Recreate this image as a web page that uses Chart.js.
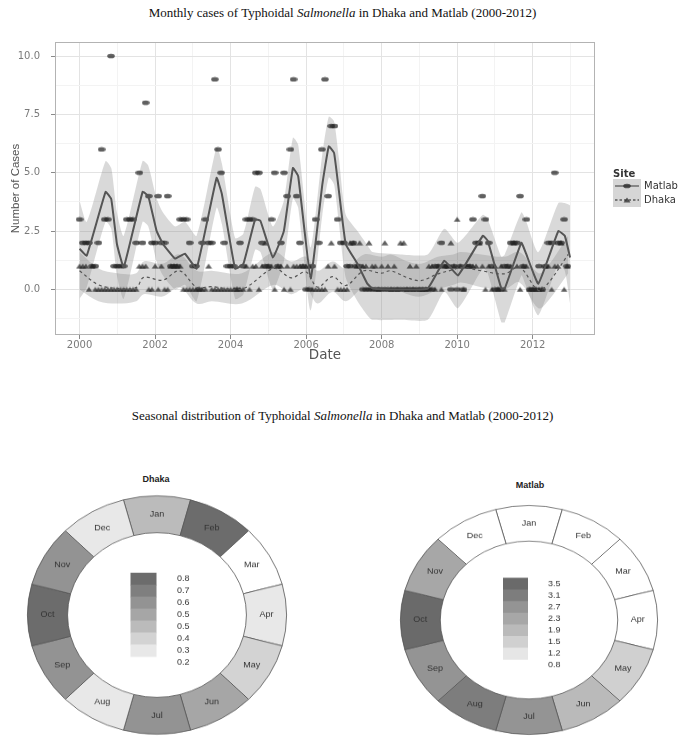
<!DOCTYPE html>
<html>
<head>
<meta charset="utf-8">
<script src="https://cdn.jsdelivr.net/npm/chart.js@4.4.1/dist/chart.umd.min.js"></script>
<style>
  html, body { margin: 0; padding: 0; background: #fff; }
  body { width: 685px; height: 738px; overflow: hidden; position: relative; }
  .title { position: absolute; left: 0; width: 685px; text-align: center;
           font-family: "Liberation Serif", serif; font-size: 13px; color: #111; line-height: 15px; }
  .ringtitle { position: absolute; width: 120px; text-align: center; font-family: "Liberation Sans", sans-serif;
               font-weight: bold; font-size: 9px; color: #222; }
  #topWrap { position: absolute; left: 0; top: 30px; width: 685px; height: 335px; }
  .ring { position: absolute; }
</style>
</head>
<body>
<div class="title" style="top:5px">Monthly cases of Typhoidal <i>Salmonella</i> in Dhaka and Matlab (2000-2012)</div>
<div id="topWrap"><canvas id="casesChart"></canvas></div>
<div class="title" style="top:408px">Seasonal distribution of Typhoidal <i>Salmonella</i> in Dhaka and Matlab (2000-2012)</div>
<div class="ringtitle" style="left:96px;top:474px">Dhaka</div>
<div class="ringtitle" style="left:470px;top:480px">Matlab</div>
<div class="ring" style="left:22px;top:480px;transform:scaleY(0.92)"><canvas id="dhakaRing" width="270" height="270"></canvas></div>
<div class="ring" style="left:395px;top:486px;transform:scaleY(0.89)"><canvas id="matlabRing" width="268" height="268"></canvas></div>
<script>
// ---- monthly cases, Jan 2000 .. Dec 2012 (one value per month)
const startYear = 2000;
const matlabCases = [
  3,2,2,2,1,1,2,6,3,3,10,1,   // 2000
  1,1,1,3,3,3,2,5,2,8,4,2,    // 2001
  2,4,2,2,4,1,1,1,3,3,3,2,    // 2002
  1,1,0,2,3,2,2,9,6,5,2,1,    // 2003
  1,1,0,2,1,3,3,3,5,5,2,1,    // 2004
  1,3,5,1,2,5,4,6,9,4,2,1,    // 2005
  0,0,1,3,2,6,9,4,7,7,3,2,    // 2006
  2,1,1,2,1,1,0,0,0,0,0,0,    // 2007
  0,0,0,0,0,0,0,0,0,0,0,0,    // 2008
  0,0,0,0,0,1,1,2,1,1,0,1,    // 2009
  0,1,0,1,1,3,2,2,4,3,2,1,    // 2010
  0,0,0,1,1,2,2,2,4,1,3,0,    // 2011
  0,0,1,0,1,2,2,5,2,2,3,1     // 2012
];
const dhakaCases = [
  1,1,1,0,1,0,0,0,0,0,0,0,    // 2000
  0,0,0,0,0,0,0,1,1,1,0,0,    // 2001
  1,0,1,0,0,1,1,1,1,0,0,0,    // 2002
  0,0,0,0,0,1,0,0,0,0,0,0,    // 2003
  0,0,0,0,0,1,0,1,1,0,1,2,    // 2004
  1,1,0,1,1,0,1,0,1,1,1,1,    // 2005
  1,1,0,0,0,0,0,1,2,1,0,0,    // 2006
  0,0,2,2,1,2,1,1,2,1,1,0,    // 2007
  1,2,1,0,1,0,2,2,0,1,0,1,    // 2008
  0,0,0,1,1,0,1,0,1,1,2,1,    // 2009
  3,1,0,1,1,1,1,2,1,0,1,0,    // 2010
  1,0,1,0,1,1,2,1,0,1,1,0,    // 2011
  0,0,0,0,1,1,0,1,1,2,0,1     // 2012
];

// ---- smoothed trend + band
const matlabFitX = [2000.00,2000.19,2000.69,2000.84,2000.99,2001.17,2001.67,2001.82,2002.04,2002.21,2002.53,2002.79,
  2003.10,2003.63,2003.77,2004.12,2004.34,2004.65,2004.79,2005.12,2005.41,2005.65,2005.79,2006.12,2006.43,2006.60,
  2006.74,2006.87,2007.05,2007.36,2007.62,2007.76,2008.50,2009.22,2009.66,2010.02,2010.68,2010.81,2011.17,2011.26,
  2011.70,2011.81,2012.15,2012.68,2012.85,2012.99];
const matlabFitY = [1.74,1.45,4.18,3.87,1.95,0.95,4.18,4.00,2.51,1.95,1.32,1.53,
  0.89,4.78,4.08,0.89,1.10,3.00,2.94,1.37,2.50,5.20,4.85,0.47,4.50,6.13,
  5.85,4.20,1.94,1.10,0.25,0.04,0.00,0.04,1.23,0.60,2.30,2.08,0.04,0.04,
  2.00,1.60,0.25,2.50,2.30,1.37];
const matlabUpper = [3.8,2.9,5.5,5.2,3.3,2.3,5.5,5.3,3.9,3.3,2.7,2.9,
  2.3,6.1,5.4,2.2,2.4,4.4,4.3,2.7,3.8,6.5,6.2,1.8,5.8,7.4,
  7.2,5.6,3.2,2.5,1.9,1.6,1.5,1.5,2.6,2.0,3.2,3.0,1.4,1.5,
  3.3,3.0,1.6,3.7,3.7,3.6];
const matlabLower = [-0.4,0.1,2.9,2.6,0.6,-0.4,2.9,2.7,1.2,0.6,0.0,0.2,
  -0.5,3.5,2.8,-0.4,-0.2,1.7,1.6,0.0,1.2,3.9,3.5,-0.9,3.2,4.8,
  4.5,2.8,0.5,-0.5,-1.1,-1.3,-1.3,-1.3,-0.1,-0.8,0.9,0.7,-1.4,-1.4,
  0.6,0.2,-1.1,1.1,0.8,-0.6];

const dhakaFitX = [2000.0,2000.5,2001.0,2001.5,2001.7,2002.2,2002.65,2003.1,2003.5,2004.3,2005.15,2005.6,2006.0,
  2006.3,2006.7,2007.05,2007.53,2008.0,2008.24,2008.69,2009.04,2009.49,2009.9,2010.1,2010.64,2011.25,2011.65,
  2012.15,2012.4,2012.94];
const dhakaFitY = [0.80,0.20,0.05,0.08,0.52,0.40,0.80,0.10,0.12,0.02,0.90,0.50,0.75,
  0.10,0.55,0.17,0.80,0.70,0.80,0.50,0.38,0.67,0.85,0.95,0.80,0.67,0.95,
  -0.04,0.25,1.50];
const dhakaUpper = [1.6,0.9,0.7,0.7,1.2,1.1,1.5,0.8,0.8,0.7,1.6,1.2,1.4,
  0.8,1.2,0.9,1.5,1.4,1.5,1.2,1.1,1.4,1.5,1.6,1.5,1.4,1.6,
  0.7,1.0,2.3];
const dhakaLower = [0.0,-0.5,-0.6,-0.5,-0.2,-0.3,0.1,-0.6,-0.5,-0.6,0.2,-0.2,0.05,
  -0.6,-0.1,-0.5,0.1,0.0,0.1,-0.2,-0.3,0.0,0.2,0.3,0.1,0.0,0.3,
  -0.8,-0.5,0.7];

// ---- seasonal means
const months = ['Jan','Feb','Mar','Apr','May','Jun','Jul','Aug','Sep','Oct','Nov','Dec'];
const dhakaMonthly  = [0.44,0.79,0.18,0.25,0.34,0.50,0.58,0.23,0.60,0.76,0.59,0.27];
const matlabMonthly = [0.75,0.70,0.60,0.65,1.35,1.70,2.45,2.90,2.55,3.40,2.10,0.78];
const dhakaBreaks  = [0.2,0.3,0.4,0.47,0.54,0.63,0.72,0.8];
const matlabBreaks = [0.8,1.2,1.5,1.9,2.3,2.7,3.1,3.5];
const dhakaKeyLabels  = ['0.8','0.7','0.6','0.5','0.5','0.4','0.3','0.2'];
const matlabKeyLabels = ['3.5','3.1','2.7','2.3','1.9','1.5','1.2','0.8'];

const dhakaGreys  = ['#e8e8e8','#d3d3d3','#bbbbbb','#a6a6a6','#939393','#7f7f7f','#6c6c6c'];
const matlabGreys = ['#e6e6e6','#d0d0d0','#bababa','#a7a7a7','#949494','#7d7d7d','#6a6a6a'];

// point shapes
function makeShape(kind) {
  const c = document.createElement('canvas');
  c.width = 8; c.height = 6;
  const g = c.getContext('2d');
  g.fillStyle = 'rgba(35,35,35,0.72)';
  g.beginPath();
  if (kind === 'ellipse') {
    g.ellipse(4, 3, 3.8, 2.3, 0, 0, Math.PI * 2);
  } else {
    g.moveTo(4, 0.6); g.lineTo(7.5, 5.5); g.lineTo(0.5, 5.5); g.closePath();
  }
  g.fill();
  return c;
}
const dotShape = makeShape('ellipse');
const triShape = makeShape('triangle');

const toXY = (xs, ys) => xs.map((x, i) => ({ x: x, y: ys[i] }));
const monthly = (vals) => vals.map((v, i) => ({ x: startYear + i / 12, y: v }));

// legend on the right + panel frame
const siteLegend = {
  id: 'siteLegend',
  afterDraw(chart) {
    const ctx = chart.ctx;
    const a = chart.chartArea;
    ctx.save();
    ctx.strokeStyle = '#b3b3b3';
    ctx.lineWidth = 1;
    ctx.strokeRect(a.left + 0.5, a.top + 0.5, a.width - 1, a.height - 1);

    ctx.textBaseline = 'middle';
    ctx.fillStyle = '#333';
    ctx.font = 'bold 10px "DejaVu Sans"';
    ctx.fillText('Site', 613, 144);
    const keys = [
      { label: 'Matlab', shape: dotShape, dash: [] },
      { label: 'Dhaka', shape: triShape, dash: [2.5, 2] }
    ];
    keys.forEach((k, i) => {
      const y0 = 149 + i * 14;
      ctx.fillStyle = '#d6d6d6';
      ctx.fillRect(613, y0, 28, 14);
      ctx.strokeStyle = '#5a5a5a';
      ctx.lineWidth = 1.3;
      ctx.setLineDash(k.dash);
      ctx.beginPath(); ctx.moveTo(615, y0 + 7); ctx.lineTo(639, y0 + 7); ctx.stroke();
      ctx.setLineDash([]);
      ctx.drawImage(k.shape, 623, y0 + 4);
      ctx.fillStyle = '#333';
      ctx.font = '10px "DejaVu Sans"';
      ctx.fillText(k.label, 644, y0 + 7);
    });
    ctx.restore();
  }
};

const bandFill = 'rgba(128,128,128,0.3)';
const casesChart = new Chart(document.getElementById('casesChart'), {
  type: 'line',
  data: {
    datasets: [
      { label: 'Matlab trend', data: toXY(matlabFitX, matlabFitY), borderColor: '#555', borderWidth: 2,
        pointRadius: 0, fill: false, tension: 0.1, order: 1 },
      { label: 'Dhaka trend', data: toXY(dhakaFitX, dhakaFitY), borderColor: '#555', borderWidth: 1.2,
        borderDash: [3, 3], pointRadius: 0, fill: false, tension: 0.35, order: 2 },
      { label: 'Matlab', data: monthly(matlabCases), showLine: false, pointStyle: dotShape, order: 3 },
      { label: 'Dhaka', data: monthly(dhakaCases), showLine: false, pointStyle: triShape, order: 4 },
      { label: 'Matlab upper', data: toXY(matlabFitX, matlabUpper), borderWidth: 0, pointRadius: 0,
        backgroundColor: bandFill, fill: '+1', tension: 0.2, order: 6 },
      { label: 'Matlab lower', data: toXY(matlabFitX, matlabLower), borderWidth: 0, pointRadius: 0,
        fill: false, tension: 0.2, order: 6 },
      { label: 'Dhaka upper', data: toXY(dhakaFitX, dhakaUpper), borderWidth: 0, pointRadius: 0,
        backgroundColor: bandFill, fill: '+1', tension: 0.35, order: 5 },
      { label: 'Dhaka lower', data: toXY(dhakaFitX, dhakaLower), borderWidth: 0, pointRadius: 0,
        fill: false, tension: 0.35, order: 5 }
    ]
  },
  options: {
    responsive: true,
    maintainAspectRatio: false,
    animation: false,
    layout: { padding: { top: 12, right: 90, left: 0, bottom: 0 } },
    plugins: { legend: { display: false }, tooltip: { enabled: false } },
    scales: {
      x: {
        type: 'linear', min: 1999.35, max: 2013.65,
        afterFit: (s) => { s.height = 30; s.paddingLeft = 0; s.paddingRight = 0; },
        ticks: {
          stepSize: 1, includeBounds: false, autoSkip: false, maxRotation: 0, padding: 0,
          color: '#7a7a7a', font: { family: 'DejaVu Sans', size: 10 },
          callback: (v) => (Number.isInteger(v) && v % 2 === 0) ? String(v) : ''
        },
        grid: {
          color: (c) => (c.tick && c.tick.value % 2 === 0) ? '#e3e3e3' : '#f3f3f3',
          tickColor: (c) => (c.tick && c.tick.value % 2 === 0) ? '#8a8a8a' : 'rgba(0,0,0,0)',
          tickLength: 4
        },
        border: { display: false },
        title: { display: true, text: 'Date', color: '#555', font: { family: 'DejaVu Sans', size: 13.5 },
                 padding: { top: 0, bottom: 1 } }
      },
      y: {
        min: -1.95, max: 10.6,
        afterFit: (s) => { s.width = 55; s.paddingTop = 0; s.paddingBottom = 0; },
        ticks: {
          stepSize: 1.25, includeBounds: false, autoSkip: false, padding: 11,
          color: '#7a7a7a', font: { family: 'DejaVu Sans', size: 10 },
          callback: (v) => (v % 2.5 === 0) ? v.toFixed(1) : ''
        },
        grid: {
          color: (c) => (c.tick && c.tick.value % 2.5 === 0) ? '#e3e3e3' : '#f3f3f3',
          tickColor: (c) => (c.tick && c.tick.value % 2.5 === 0) ? '#8a8a8a' : 'rgba(0,0,0,0)',
          tickLength: 4
        },
        border: { display: false },
        title: { display: true, text: 'Number of Cases', color: '#555',
                 font: { family: '"Liberation Sans Narrow", "Liberation Sans"', size: 11.5 },
                 padding: { top: 9, bottom: 0 } }
      }
    }
  },
  plugins: [siteLegend]
});

// ---- seasonal rings
function greyFor(v, breaks, greys) {
  if (v < breaks[0]) return '#ffffff';
  for (let k = greys.length - 1; k >= 0; k--) {
    if (v >= breaks[k]) return greys[k];
  }
  return greys[0];
}

const ringText = {
  id: 'ringText',
  afterDatasetsDraw(chart, args, opts) {
    const ctx = chart.ctx;
    const arcs = chart.getDatasetMeta(0).data;
    ctx.save();
    ctx.font = '9px "Liberation Sans"';
    ctx.fillStyle = '#333';
    ctx.textAlign = 'center';
    ctx.textBaseline = 'middle';
    arcs.forEach((arc, i) => {
      const p = arc.getProps(['x', 'y', 'startAngle', 'endAngle', 'innerRadius', 'outerRadius']);
      const mid = (p.startAngle + p.endAngle) / 2;
      const r = (p.innerRadius + p.outerRadius) / 2;
      ctx.fillText(chart.data.labels[i], p.x + Math.cos(mid) * r, p.y + Math.sin(mid) * r);
    });
    const cx = arcs[0].x, cy = arcs[0].y;
    const n = opts.greys.length;
    for (let k = 0; k < n; k++) {
      ctx.fillStyle = opts.greys[n - 1 - k];
      ctx.fillRect(cx + opts.barX, cy + opts.barTop + k * opts.band, opts.barW, opts.band + 0.5);
    }
    ctx.textAlign = 'left';
    ctx.fillStyle = '#333';
    opts.labels.forEach((t, i) => {
      ctx.fillText(t, cx + opts.labelX, cy + opts.barTop + (i + 0.5) * opts.band);
    });
    ctx.restore();
  }
};

function makeRing(id, values, breaks, greys, labels, bar) {
  return new Chart(document.getElementById(id), {
    type: 'doughnut',
    data: {
      labels: months,
      datasets: [{
        data: months.map(() => 1),
        backgroundColor: values.map((v) => greyFor(v, breaks, greys)),
        borderColor: '#555',
        borderWidth: 0.8
      }]
    },
    options: {
      responsive: false,
      animation: false,
      rotation: -15,
      cutout: '69%',
      layout: { padding: 5 },
      plugins: {
        legend: { display: false },
        tooltip: { enabled: false },
        ringText: Object.assign({ greys: greys, labels: labels }, bar)
      }
    },
    plugins: [ringText]
  });
}

const dhakaRing = makeRing('dhakaRing', dhakaMonthly, dhakaBreaks, dhakaGreys, dhakaKeyLabels,
  { barX: -26.5, barW: 26, barTop: -46, band: 13, labelX: 20 });
const matlabRing = makeRing('matlabRing', matlabMonthly, matlabBreaks, matlabGreys, matlabKeyLabels,
  { barX: -26, barW: 25, barTop: -47.5, band: 13.1, labelX: 19 });
</script>
</body>
</html>
